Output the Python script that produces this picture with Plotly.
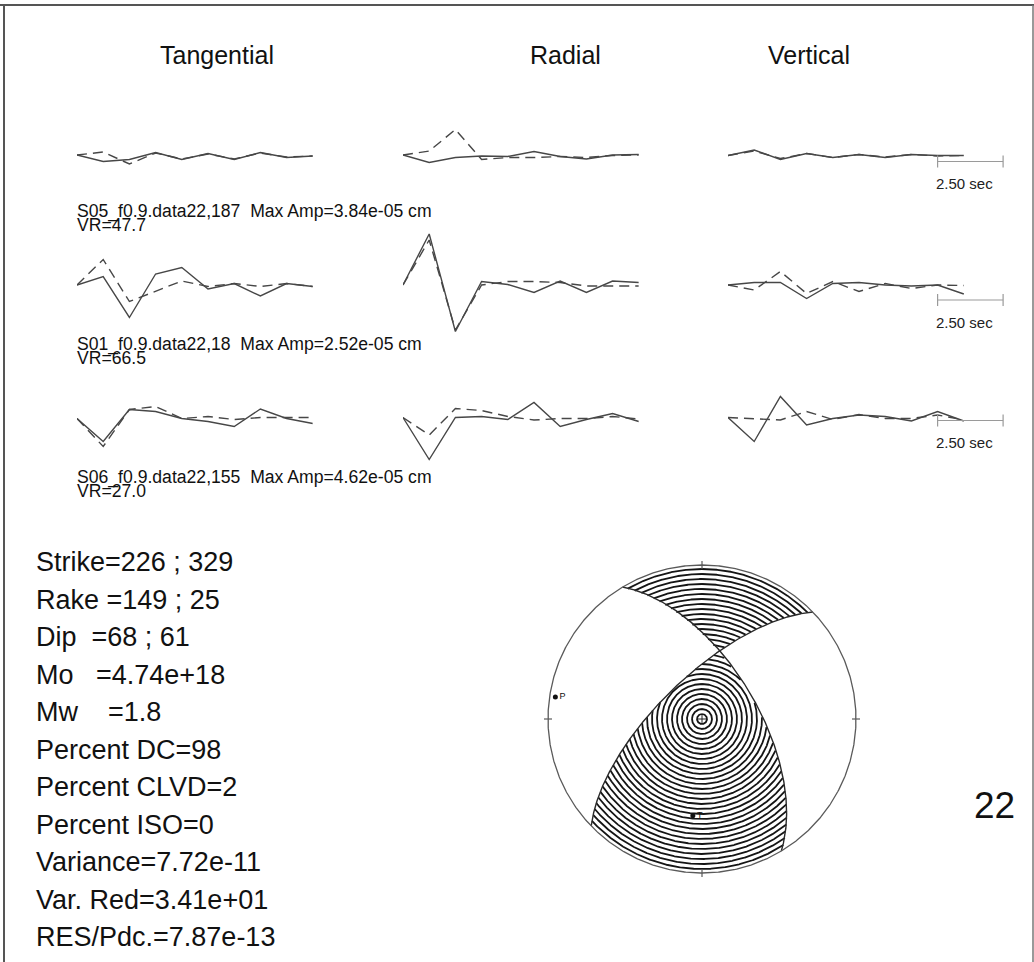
import numpy as np
import plotly.graph_objects as go

W, H = 1034, 962

# ---------------- source parameters ----------------
strike = [226, 329]
dip = [68, 61]
rake = [149, 25]

summary_lines = [
    "Strike=226 ; 329",
    "Rake =149 ; 25",
    "Dip\u00a0 =68 ; 61",
    "Mo\u00a0 \u00a0=4.74e+18",
    "Mw\u00a0 \u00a0 =1.8",
    "Percent DC=98",
    "Percent CLVD=2",
    "Percent ISO=0",
    "Variance=7.72e-11",
    "Var. Red=3.41e+01",
    "RES/Pdc.=7.87e-13",
]
event_id = "22"

# ---------------- waveform data ----------------
components = ["Tangential", "Radial", "Vertical"]
stations = ["S05_f0.9.data22,187", "S01_f0.9.data22,18", "S06_f0.9.data22,155"]
max_amp = ["3.84e-05", "2.52e-05", "4.62e-05"]
var_red = ["47.7", "66.5", "27.0"]
scale_bar_sec = 2.5
t_sec = [0, 1, 2, 3, 4, 5, 6, 7, 8, 9]

# normalised amplitudes, solid = observed, dashed = synthetic
s05_tan_obs = [0.02, -0.11, -0.07, 0.07, -0.07, 0.05, -0.07, 0.07, -0.03, 0.00]
s05_tan_syn = [0.02, 0.08, -0.16, 0.06, -0.06, 0.04, -0.06, 0.06, -0.02, 0.00]
s05_rad_obs = [0.02, -0.13, -0.03, 0.00, -0.01, 0.09, -0.01, -0.06, 0.02, 0.03]
s05_rad_syn = [0.02, 0.10, 0.53, -0.07, -0.03, -0.03, -0.01, -0.03, 0.01, 0.02]
s05_ver_obs = [0.01, 0.12, -0.07, 0.05, -0.03, 0.03, -0.03, 0.03, 0.01, 0.01]
s05_ver_syn = [0.01, 0.10, -0.05, 0.05, -0.03, 0.03, -0.02, 0.03, 0.00, 0.01]

s01_tan_obs = [-0.02, 0.15, -0.67, 0.20, 0.33, -0.10, 0.01, -0.24, 0.01, -0.05]
s01_tan_syn = [-0.02, 0.49, -0.35, -0.15, 0.06, -0.05, 0.01, -0.05, 0.01, -0.05]
s01_rad_obs = [-0.02, 1.00, -0.95, 0.05, -0.01, -0.17, 0.06, -0.17, 0.06, 0.03]
s01_rad_syn = [-0.02, 0.88, -0.92, -0.02, 0.05, 0.05, 0.03, -0.04, -0.04, -0.04]
s01_ver_obs = [-0.02, 0.03, 0.03, -0.29, 0.01, 0.03, -0.02, -0.04, -0.02, -0.20]
s01_ver_syn = [-0.02, -0.12, 0.25, -0.19, 0.05, -0.15, 0.01, -0.09, -0.02, -0.03]

s06_tan_obs = [-0.01, -0.47, 0.17, 0.13, -0.01, -0.07, -0.17, 0.18, -0.01, -0.11]
s06_tan_syn = [-0.01, -0.57, 0.17, 0.23, -0.01, 0.03, -0.03, 0.01, 0.01, 0.01]
s06_rad_obs = [0.01, -0.83, 0.01, 0.03, -0.03, 0.31, -0.17, -0.03, 0.09, -0.07]
s06_rad_syn = [0.01, -0.34, 0.19, 0.15, 0.03, -0.04, -0.01, -0.01, 0.03, -0.02]
s06_ver_obs = [0.01, -0.47, 0.43, -0.14, -0.01, 0.06, 0.03, -0.06, 0.13, -0.06]
s06_ver_syn = [0.01, -0.01, -0.04, 0.13, -0.03, 0.07, -0.01, -0.01, 0.06, -0.04]

observed = [
    [s05_tan_obs, s05_rad_obs, s05_ver_obs],
    [s01_tan_obs, s01_rad_obs, s01_ver_obs],
    [s06_tan_obs, s06_rad_obs, s06_ver_obs],
]
synthetic = [
    [s05_tan_syn, s05_rad_syn, s05_ver_syn],
    [s01_tan_syn, s01_rad_syn, s01_ver_syn],
    [s06_tan_syn, s06_rad_syn, s06_ver_syn],
]
bar_level = [-0.11, -0.32, -0.05]

# ---------------- page layout (pixels) ----------------
col_x0 = [77, 403, 728]
row_base = [156, 284, 418]
PX_PER_S = 26.2
PX_PER_UNIT = 50.0
HALF = 70
FONT = "Liberation Sans, Arial, Helvetica, sans-serif"
OBS_LINE = dict(color="#474747", width=1.4)
SYN_LINE = dict(color="#474747", width=1.4, dash="10px,6px")


def px(p):
    return p / W


def py(p):
    return 1 - p / H


fig = go.Figure()
layout_axes = {}
annotations = []

k = 0
for r in range(3):
    for c in range(3):
        k += 1
        xname = "xaxis" if k == 1 else f"xaxis{k}"
        yname = "yaxis" if k == 1 else f"yaxis{k}"
        xref = "x" if k == 1 else f"x{k}"
        yref = "y" if k == 1 else f"y{k}"
        t_max = 11 if c == 2 else 9
        x0 = col_x0[c]
        x1 = x0 + t_max * PX_PER_S
        b = row_base[r]
        layout_axes[xname] = dict(domain=[px(x0), px(x1)], range=[0, t_max],
                                  visible=False, fixedrange=True)
        layout_axes[yname] = dict(domain=[py(b + HALF), py(b - HALF)],
                                  range=[-HALF / PX_PER_UNIT, HALF / PX_PER_UNIT],
                                  visible=False, fixedrange=True, anchor=xref)
        fig.add_trace(go.Scatter(x=t_sec, y=synthetic[r][c], mode="lines",
                                 line=SYN_LINE, xaxis=xref, yaxis=yref,
                                 hoverinfo="skip", showlegend=False))
        fig.add_trace(go.Scatter(x=t_sec, y=observed[r][c], mode="lines",
                                 line=OBS_LINE, xaxis=xref, yaxis=yref,
                                 hoverinfo="skip", showlegend=False))
        if c == 2:
            # time scale bar
            s0, s1 = 8.0, 8.0 + scale_bar_sec
            yb = bar_level[r]
            tick = 0.12
            fig.add_trace(go.Scatter(
                x=[s0, s1, None, s0, s0, None, s1, s1],
                y=[yb, yb, None, yb - tick, yb + tick, None, yb - tick, yb + tick],
                mode="lines", line=dict(color="#9a9a9a", width=1.2),
                xaxis=xref, yaxis=yref, hoverinfo="skip", showlegend=False))
            annotations.append(dict(
                x=s0 - 0.15, y=yb - 22 / PX_PER_UNIT, xref=xref, yref=yref,
                text=f"{scale_bar_sec:.2f} sec", showarrow=False,
                font=dict(family=FONT, size=15, color="#222"),
                xanchor="left", yanchor="middle"))

# column titles
title_x = [217, 565, 809]
for c in range(3):
    annotations.append(dict(x=px(title_x[c]), y=py(55), xref="paper", yref="paper",
                            text=components[c], showarrow=False,
                            font=dict(family=FONT, size=25, color="#111"),
                            xanchor="center", yanchor="middle"))

# station labels
label_y = [211, 344, 477]
for r in range(3):
    annotations.append(dict(
        x=px(75), y=py(label_y[r]), xref="paper", yref="paper",
        text=f"{stations[r]}\u00a0 Max Amp={max_amp[r]} cm", showarrow=False,
        font=dict(family=FONT, size=17.6, color="#111"),
        xanchor="left", yanchor="middle"))
    annotations.append(dict(
        x=px(75), y=py(label_y[r] + 14), xref="paper", yref="paper",
        text=f"VR={var_red[r]}", showarrow=False,
        font=dict(family=FONT, size=17.6, color="#111"),
        xanchor="left", yanchor="middle"))

# source summary
for i, line in enumerate(summary_lines):
    annotations.append(dict(x=px(34), y=py(562 + 37.5 * i), xref="paper", yref="paper",
                            text=line, showarrow=False,
                            font=dict(family=FONT, size=27, color="#111"),
                            xanchor="left", yanchor="middle"))

annotations.append(dict(x=px(1017), y=py(805), xref="paper", yref="paper",
                        text=event_id, showarrow=False,
                        font=dict(family=FONT, size=37, color="#111"),
                        xanchor="right", yanchor="middle"))

# ---------------- focal sphere (lower hemisphere, equal area) ----------------
def moment_tensor(s, d, r):
    s, d, r = np.radians([s, d, r])
    mxx = -(np.sin(d) * np.cos(r) * np.sin(2 * s) + np.sin(2 * d) * np.sin(r) * np.sin(s) ** 2)
    myy = np.sin(d) * np.cos(r) * np.sin(2 * s) - np.sin(2 * d) * np.sin(r) * np.cos(s) ** 2
    mzz = np.sin(2 * d) * np.sin(r)
    mxy = np.sin(d) * np.cos(r) * np.cos(2 * s) + 0.5 * np.sin(2 * d) * np.sin(r) * np.sin(2 * s)
    mxz = -(np.cos(d) * np.cos(r) * np.cos(s) + np.cos(2 * d) * np.sin(r) * np.sin(s))
    myz = -(np.cos(d) * np.cos(r) * np.sin(s) - np.cos(2 * d) * np.sin(r) * np.cos(s))
    return np.array([[mxx, mxy, mxz], [mxy, myy, myz], [mxz, myz, mzz]])


def project(v):
    v = np.atleast_2d(v).astype(float)
    v = np.where(v[:, 2:3] < 0, -v, v)
    inc = np.arccos(np.clip(v[:, 2], -1, 1))
    az = np.arctan2(v[:, 1], v[:, 0])
    rr = np.sqrt(2) * np.sin(inc / 2)
    return rr * np.sin(az), rr * np.cos(az)


def unproject(x, y):
    rr = np.hypot(x, y)
    inc = 2 * np.arcsin(np.clip(rr / np.sqrt(2), 0, 1))
    az = np.arctan2(x, y)
    return np.stack([np.sin(inc) * np.cos(az), np.sin(inc) * np.sin(az), np.cos(inc)], axis=-1)


M = moment_tensor(strike[0], dip[0], rake[0])

BB_CX, BB_CY, BB_R = 702, 719, 154
BB_PAD = 162
bx = "x10"
by = "y10"
layout_axes["xaxis10"] = dict(domain=[px(BB_CX - BB_PAD), px(BB_CX + BB_PAD)],
                              range=[-BB_PAD / BB_R, BB_PAD / BB_R],
                              visible=False, fixedrange=True)
layout_axes["yaxis10"] = dict(domain=[py(BB_CY + BB_PAD), py(BB_CY - BB_PAD)],
                              range=[-BB_PAD / BB_R, BB_PAD / BB_R],
                              visible=False, fixedrange=True, anchor=bx)

# concentric rings filling the compressional quadrants
ring_step = 5.0 / BB_R
ring_r = np.arange(1, int(1 / ring_step) + 1) * ring_step
theta = np.linspace(0, 2 * np.pi, 2161)
rx, ry = [], []
for rr in ring_r:
    x = rr * np.sin(theta)
    y = rr * np.cos(theta)
    v = unproject(x, y)
    pol = np.einsum("ni,ij,nj->n", v, M, v)
    for xi, yi, p in zip(x, y, pol):
        if p > 0:
            rx.append(float(xi))
            ry.append(float(yi))
        else:
            rx.append(None)
            ry.append(None)
    rx.append(None)
    ry.append(None)
fig.add_trace(go.Scatter(x=rx, y=ry, mode="lines", line=dict(color="#151515", width=1.8),
                         connectgaps=False, xaxis=bx, yaxis=by,
                         hoverinfo="skip", showlegend=False))

# nodal planes
for s, d in zip(strike, dip):
    sr, dr = np.radians(s), np.radians(d)
    sv = np.array([np.cos(sr), np.sin(sr), 0.0])
    dv = np.array([np.cos(dr) * np.cos(sr + np.pi / 2), np.cos(dr) * np.sin(sr + np.pi / 2), np.sin(dr)])
    a = np.linspace(0, np.pi, 721)
    pv = np.outer(np.cos(a), sv) + np.outer(np.sin(a), dv)
    nx, ny = project(pv)
    fig.add_trace(go.Scatter(x=nx, y=ny, mode="lines", line=dict(color="#2a2a2a", width=1.4),
                             xaxis=bx, yaxis=by, hoverinfo="skip", showlegend=False))

# outer circle and cardinal ticks
phi = np.linspace(0, 2 * np.pi, 721)
fig.add_trace(go.Scatter(x=np.sin(phi), y=np.cos(phi), mode="lines",
                         line=dict(color="#5a5a5a", width=1.3),
                         xaxis=bx, yaxis=by, hoverinfo="skip", showlegend=False))
tk_x, tk_y = [], []
for az in [0, 90, 180, 270]:
    a = np.radians(az)
    for rr in (1 - 4 / BB_R, 1 + 4 / BB_R):
        tk_x.append(rr * np.sin(a))
        tk_y.append(rr * np.cos(a))
    tk_x.append(None)
    tk_y.append(None)
fig.add_trace(go.Scatter(x=tk_x, y=tk_y, mode="lines", line=dict(color="#5a5a5a", width=1.2),
                         xaxis=bx, yaxis=by, hoverinfo="skip", showlegend=False))

# centre mark
fig.add_trace(go.Scatter(x=[0], y=[0], mode="markers",
                         marker=dict(symbol="cross-thin", size=7, line=dict(color="#222", width=1)),
                         xaxis=bx, yaxis=by, hoverinfo="skip", showlegend=False))

# P and T axes
w, V = np.linalg.eigh(M)
t_axis = V[:, np.argmax(w)]
p_axis = V[:, np.argmin(w)]
for vec, lab in [(p_axis, "P"), (t_axis, "T")]:
    ax_x, ax_y = project(vec)
    fig.add_trace(go.Scatter(x=ax_x, y=ax_y, mode="markers+text", text=[lab],
                             textposition="middle right",
                             textfont=dict(family=FONT, size=9, color="#111"),
                             marker=dict(color="#111", size=5),
                             xaxis=bx, yaxis=by, hoverinfo="skip", showlegend=False))

# page frame
frame = [
    dict(type="line", xref="paper", yref="paper", x0=0, x1=1, y0=py(5), y1=py(5),
         line=dict(color="#555", width=2)),
    dict(type="line", xref="paper", yref="paper", x0=px(4), x1=px(4), y0=py(5), y1=0,
         line=dict(color="#555", width=2)),
    dict(type="line", xref="paper", yref="paper", x0=px(1033), x1=px(1033), y0=py(5), y1=0,
         line=dict(color="#777", width=1.5)),
]

fig.update_layout(
    width=W, height=H, margin=dict(l=0, r=0, t=0, b=0),
    paper_bgcolor="white", plot_bgcolor="rgba(0,0,0,0)",
    showlegend=False, annotations=annotations, shapes=frame,
    **layout_axes,
)

fig.write_html("out.html", config={"displayModeBar": False})
